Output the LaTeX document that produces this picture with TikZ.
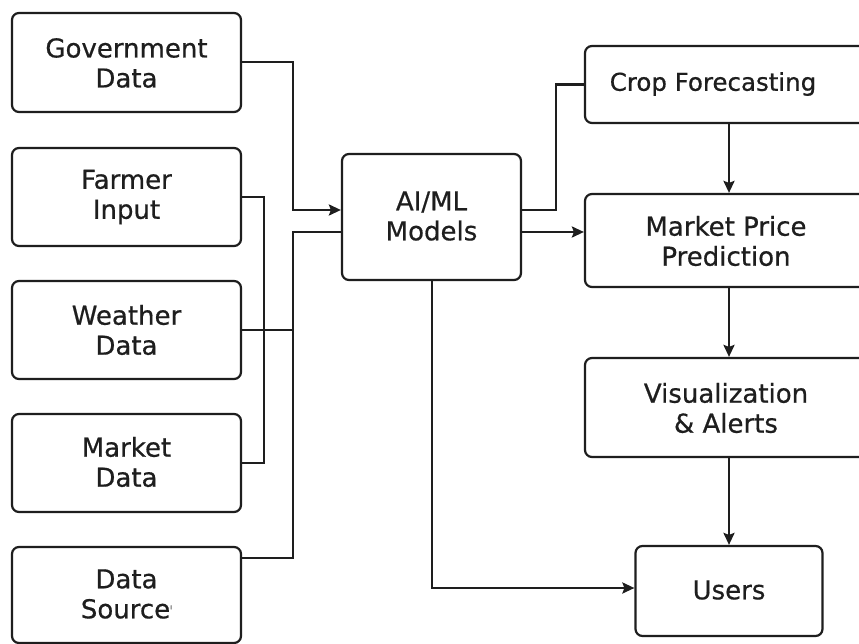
\documentclass[tikz,border=0pt]{standalone}
\usepackage{fontspec}
\setmainfont{DejaVu Sans}
\newfontfamily\lblfont[FakeBold=0.6]{DejaVu Sans}
\usetikzlibrary{arrows.meta}
\definecolor{linec}{HTML}{1E1E1E}
\definecolor{txtc}{HTML}{1E1E1E}
\begin{document}
\begin{tikzpicture}[x=1pt,y=-1pt,
  box/.style={draw=linec, line width=2.2pt, rounded corners=7pt, fill=white, inner sep=0pt},
  lbl/.style={text=txtc, font=\lblfont\fontsize{26}{30}\selectfont, align=center, inner sep=0pt},
  conn/.style={draw=linec, line width=2.4pt},
  arr/.style={conn, -{Stealth[length=12pt,width=11pt,inset=2pt]}}]
\useasboundingbox (0,0) rectangle (859,644);
\fill[white] (0,0) rectangle (859,644);
\clip (0,0) rectangle (859,644);

% left column
\node[box, minimum width=229pt, minimum height=99pt] (gov) at (126.5,62.5) {};
\node[lbl] (govT) at (126.5,63) {Government\\Data};
\node[box, minimum width=229pt, minimum height=98pt] (farm) at (126.5,197) {};
\node[lbl] (farmT) at (126.5,197) {Farmer\\Input};
\node[box, minimum width=229pt, minimum height=98pt] (weat) at (126.5,330) {};
\node[lbl] (weatT) at (126.5,330) {Weather\\Data};
\node[box, minimum width=229pt, minimum height=98pt] (mark) at (126.5,463) {};
\node[lbl] (markT) at (126.5,462) {Market\\Data};
\node[box, minimum width=229pt, minimum height=96pt] (ds) at (126.5,595) {};
\node[lbl] (dsT) at (126.5,594) {Data\\Source\raisebox{9pt}{\fontsize{7}{7}\selectfont ı}};

% AI box
\node[box, minimum width=179pt, minimum height=126pt] (ai) at (431.5,217) {};
\node[lbl] (aiT) at (431.5,216) {AI/ML\\Models};

% right column (extends past the right edge)
\node[box, minimum width=305pt, minimum height=77pt] (crop) at (737.5,84.5) {};
\node[lbl, font=\lblfont\fontsize{24.5}{30}\selectfont] (cropT) at (713,84) {Crop Forecasting};
\node[box, minimum width=305pt, minimum height=93pt] (mp) at (737.5,240.5) {};
\node[lbl] (mpT) at (726,241) {Market Price\\Prediction};
\node[box, minimum width=305pt, minimum height=99pt] (vis) at (737.5,407.5) {};
\node[lbl] (visT) at (726,408) {Visualization\\\& Alerts};
\node[box, minimum width=187pt, minimum height=90pt] (users) at (729,591) {};
\node[lbl] (usersT) at (729,590) {Users};

% connectors on the left
\draw[arr] ([yshift=0.5pt]gov.east) -- (293,62) |- ([yshift=7pt]ai.west);
\draw[conn] (farm.east) -- (264,197) |- (mark.east);
\draw[conn] (weat.east) -- (293,330);
\draw[conn] ([yshift=37pt]ds.east) -- (293,558) |- ([yshift=-15pt]ai.west);

% connectors on the right
\draw[conn] ([yshift=7pt]ai.east) -- (556,210) |- (crop.west);
\draw[arr] ([yshift=-15pt]ai.east) -- (mp.west |- 0,232);
\draw[arr] (crop.south -| 729,0) -- (mp.north -| 729,0);
\draw[arr] (mp.south -| 729,0) -- (vis.north -| 729,0);
\draw[arr] (vis.south -| users.north) -- (users.north);
\draw[arr] (ai.south -| 432,0) -- (432,588) -- (users.west |- 0,588);
\end{tikzpicture}
\end{document}
